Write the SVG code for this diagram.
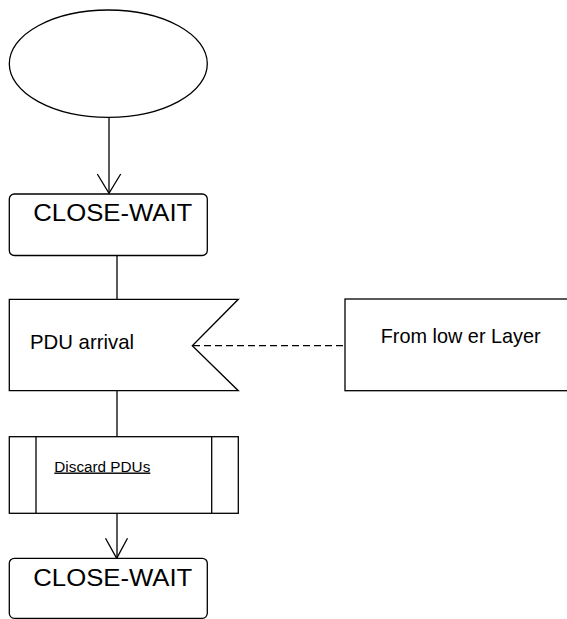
<svg xmlns="http://www.w3.org/2000/svg" width="567" height="619" viewBox="0 0 567 619">
<style>
.s{fill:#fff;stroke:#000;stroke-width:1.3}
.c{fill:none;stroke:#000;stroke-width:1.3}
.t{font-family:"Liberation Sans",Arial,sans-serif;fill:#000}
</style>
<rect width="567" height="619" fill="#fff"/>
<g id="connectors">
<line class="c" x1="109" y1="117" x2="109" y2="193"/>
<polyline class="c" points="97.3,174 109,193.3 120.7,174"/>
<line class="c" x1="117" y1="255" x2="117" y2="299"/>
<line class="c" x1="117" y1="391" x2="117" y2="437"/>
<line class="c" x1="117" y1="513" x2="117" y2="558"/>
<polyline class="c" points="105.5,538.3 116.7,558.3 127.5,538.3"/>
<line class="c" x1="193" y1="345.7" x2="345" y2="345.7" stroke-dasharray="7,4"/>
</g>
<g id="start">
<ellipse class="s" cx="108.3" cy="63.7" rx="99" ry="53.7"/>
</g>
<g id="state1">
<rect class="s" x="9.3" y="194" width="198" height="61.5" rx="5"/>
<text class="t" x="33.3" y="220.7" font-size="24" textLength="159" lengthAdjust="spacingAndGlyphs">CLOSE-WAIT</text>
</g>
<g id="signal">
<polygon class="s" points="9.3,299.3 238.3,299.3 192.3,345.7 238.3,390.7 9.3,390.7"/>
<text class="t" x="30" y="349" font-size="21" textLength="104" lengthAdjust="spacingAndGlyphs">PDU arrival</text>
</g>
<g id="source">
<rect class="s" x="345" y="299" width="230" height="91.7"/>
<text class="t" x="380.7" y="342.7" font-size="21" textLength="160" lengthAdjust="spacingAndGlyphs">From low er Layer</text>
</g>
<g id="process">
<rect class="s" x="9.3" y="436.7" width="229" height="76.6"/>
<line class="c" x1="36" y1="436.7" x2="36" y2="513.3"/>
<line class="c" x1="211.7" y1="436.7" x2="211.7" y2="513.3"/>
<text class="t" x="54.3" y="471.5" font-size="14" textLength="96" lengthAdjust="spacingAndGlyphs" text-decoration="underline">Discard PDUs</text>
</g>
<g id="state2">
<rect class="s" x="9.3" y="558.3" width="198" height="60" rx="5"/>
<text class="t" x="33.3" y="585.7" font-size="24" textLength="159" lengthAdjust="spacingAndGlyphs">CLOSE-WAIT</text>
</g>
</svg>
